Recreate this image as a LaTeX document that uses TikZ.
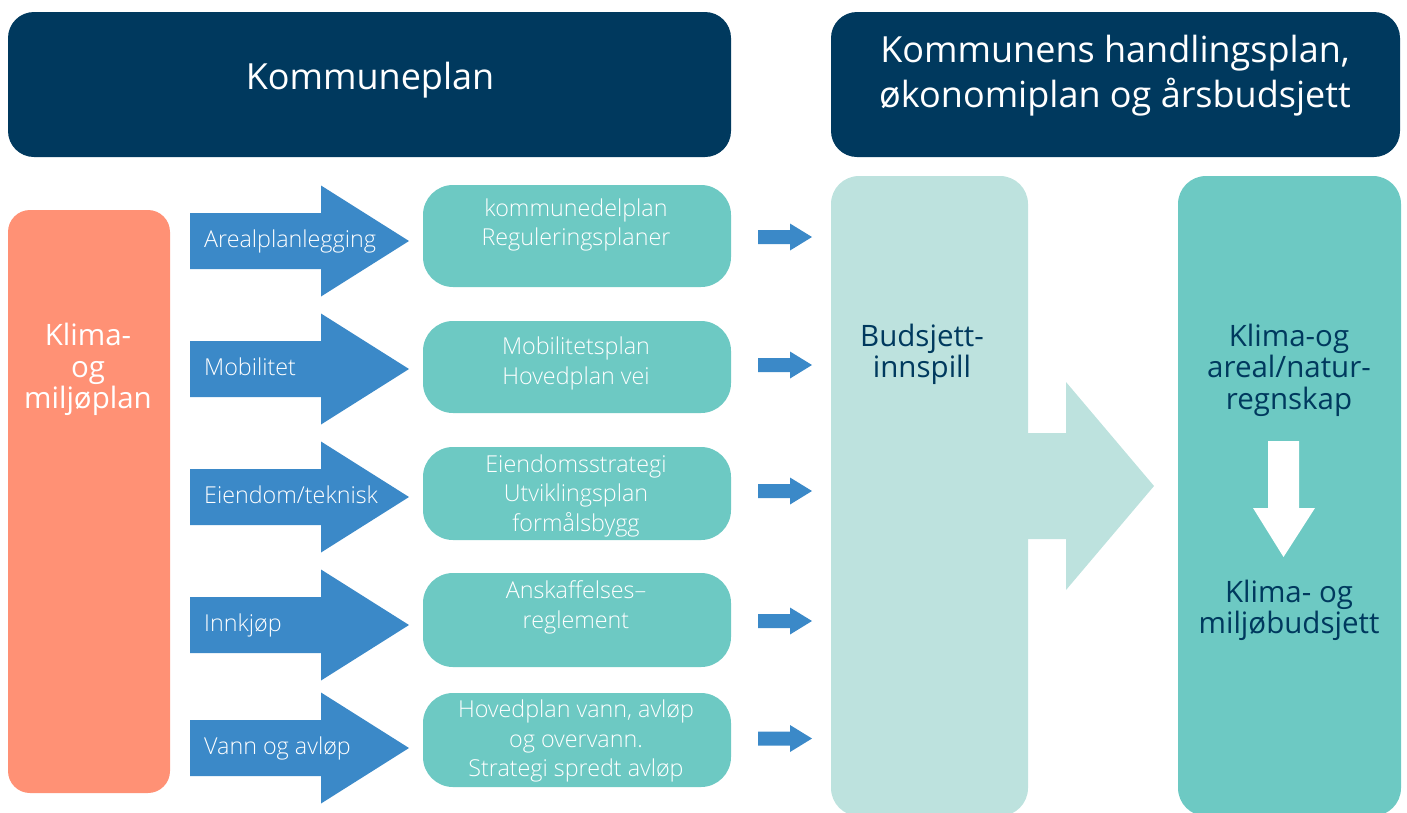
\documentclass[tikz,border=0pt]{standalone}
\usepackage{fontspec}
\setmainfont{Open Sans}
\newfontfamily\lightfont{Open Sans Light}
\definecolor{navy}{RGB}{0,57,94}
\definecolor{orangebox}{RGB}{255,145,117}
\definecolor{bluearr}{RGB}{59,137,200}
\definecolor{teal}{RGB}{109,201,195}
\definecolor{lteal}{RGB}{189,226,222}
% horizontal block arrow: style, x0, x1, x2, yc, shaft half, head half
\newcommand\blockarr[7]{%
  \fill[#1] ({#2},{#5-#6}) -- ({#3},{#5-#6}) -- ({#3},{#5-#7}) -- ({#4},{#5})
    -- ({#3},{#5+#7}) -- ({#3},{#5+#6}) -- ({#2},{#5+#6}) -- cycle;}
\begin{document}
\begin{tikzpicture}[x=1pt,y=-1pt,
  hdrbox/.style={fill=navy,rounded corners=26pt},
  hdrtxt/.style={text=white,inner sep=0,align=center},
  orbox/.style={fill=orangebox,rounded corners=22pt},
  tealbox/.style={fill=teal,rounded corners=30pt},
  arrtxt/.style={text=white,inner sep=0,anchor=base west,font=\lightfont\fontsize{23.3}{26}\selectfont},
  boxtxt/.style={text=white,inner sep=0,align=center,font=\lightfont\fontsize{23.3}{29.5}\selectfont},
  bigtxt/.style={inner sep=0,align=center,font=\fontsize{29.5}{31.5}\selectfont},
  bluefill/.style={fill=bluearr},
  ltfill/.style={fill=lteal},
  whitefill/.style={fill=white}]
\useasboundingbox (0,0) rectangle (1407,812);

% headers
\fill[hdrbox] (8,12) rectangle (731,157);
\node[hdrtxt,font=\fontsize{36}{40}\selectfont] (kommuneplan) at (370,80.5) {Kommuneplan};
\fill[hdrbox] (831,12) rectangle (1400,157);
\node[hdrtxt,font=\fontsize{36}{45}\selectfont] (handling) at (1115,76) {Kommunens handlingsplan,\\økonomiplan og årsbudsjett};

% orange box
\fill[orbox] (8,210) rectangle (170,793);
\node[bigtxt,text=white] (klima) at (88,369.5) {Klima-\\og\\miljøplan};

% blue arrows with labels
\blockarr{bluefill}{190}{321}{409}{241}{28}{55.5}
\node[arrtxt] (a1) at (204,247) {Arealplanlegging};
\blockarr{bluefill}{190}{321}{409}{369}{28}{55.5}
\node[arrtxt] (a2) at (204,375) {Mobilitet};
\blockarr{bluefill}{190}{321}{409}{497}{28}{55.5}
\node[arrtxt] (a3) at (204,503) {Eiendom/teknisk};
\blockarr{bluefill}{190}{321}{409}{625}{28}{55.5}
\node[arrtxt] (a4) at (204,631) {Innkjøp};
\blockarr{bluefill}{190}{321}{409}{748}{28}{55.5}
\node[arrtxt] (a5) at (204,754) {Vann og avløp};

% teal boxes
\fill[tealbox] (423,185) rectangle (731,287);
\node[boxtxt] (b1) at (576,225) {kommunedelplan\\Reguleringsplaner};
\fill[tealbox] (423,321) rectangle (731,413);
\node[boxtxt] (b2) at (576,363.5) {Mobilitetsplan\\Hovedplan vei};
\fill[tealbox] (423,447) rectangle (731,540);
\node[boxtxt] (b3) at (576,495.5) {Eiendomsstrategi\\Utviklingsplan\\formålsbygg};
\fill[tealbox] (423,573) rectangle (731,667);
\node[boxtxt] (b4) at (576,607.5) {Anskaffelses–\\reglement};
\fill[tealbox] (423,693) rectangle (731,787);
\node[boxtxt] (b5) at (576,741) {Hovedplan vann, avløp\\og overvann.\\Strategi spredt avløp};

% small arrows
\blockarr{bluefill}{758}{790}{812}{237}{7}{13.5}
\blockarr{bluefill}{758}{790}{812}{365}{7}{13.5}
\blockarr{bluefill}{758}{790}{812}{491}{7}{13.5}
\blockarr{bluefill}{758}{790}{812}{621}{7}{13.5}
\blockarr{bluefill}{758}{790}{812}{738.5}{7}{13.5}

% tall boxes
\begin{scope}
\clip (0,0) rectangle (1407,812);
\fill[lteal,rounded corners=28pt] (831,176) rectangle (1028,816);
\fill[teal,rounded corners=28pt] (1178,176) rectangle (1401,816);
\end{scope}
\node[bigtxt,text=navy] (budsjett) at (922,354.5) {Budsjett-\\innspill};
\blockarr{ltfill}{1020}{1066}{1154}{486}{53}{104}
\node[bigtxt,text=navy] (regnskap) at (1289,370) {Klima-og\\areal/natur-\\regnskap};
\fill[whitefill] (1268,441) -- (1299,441) -- (1299,508) -- (1315,508) -- (1283.5,557) -- (1253,508) -- (1268,508) -- cycle;
\node[bigtxt,text=navy] (miljobudsjett) at (1289,610.5) {Klima- og\\miljøbudsjett};
\end{tikzpicture}
\end{document}
